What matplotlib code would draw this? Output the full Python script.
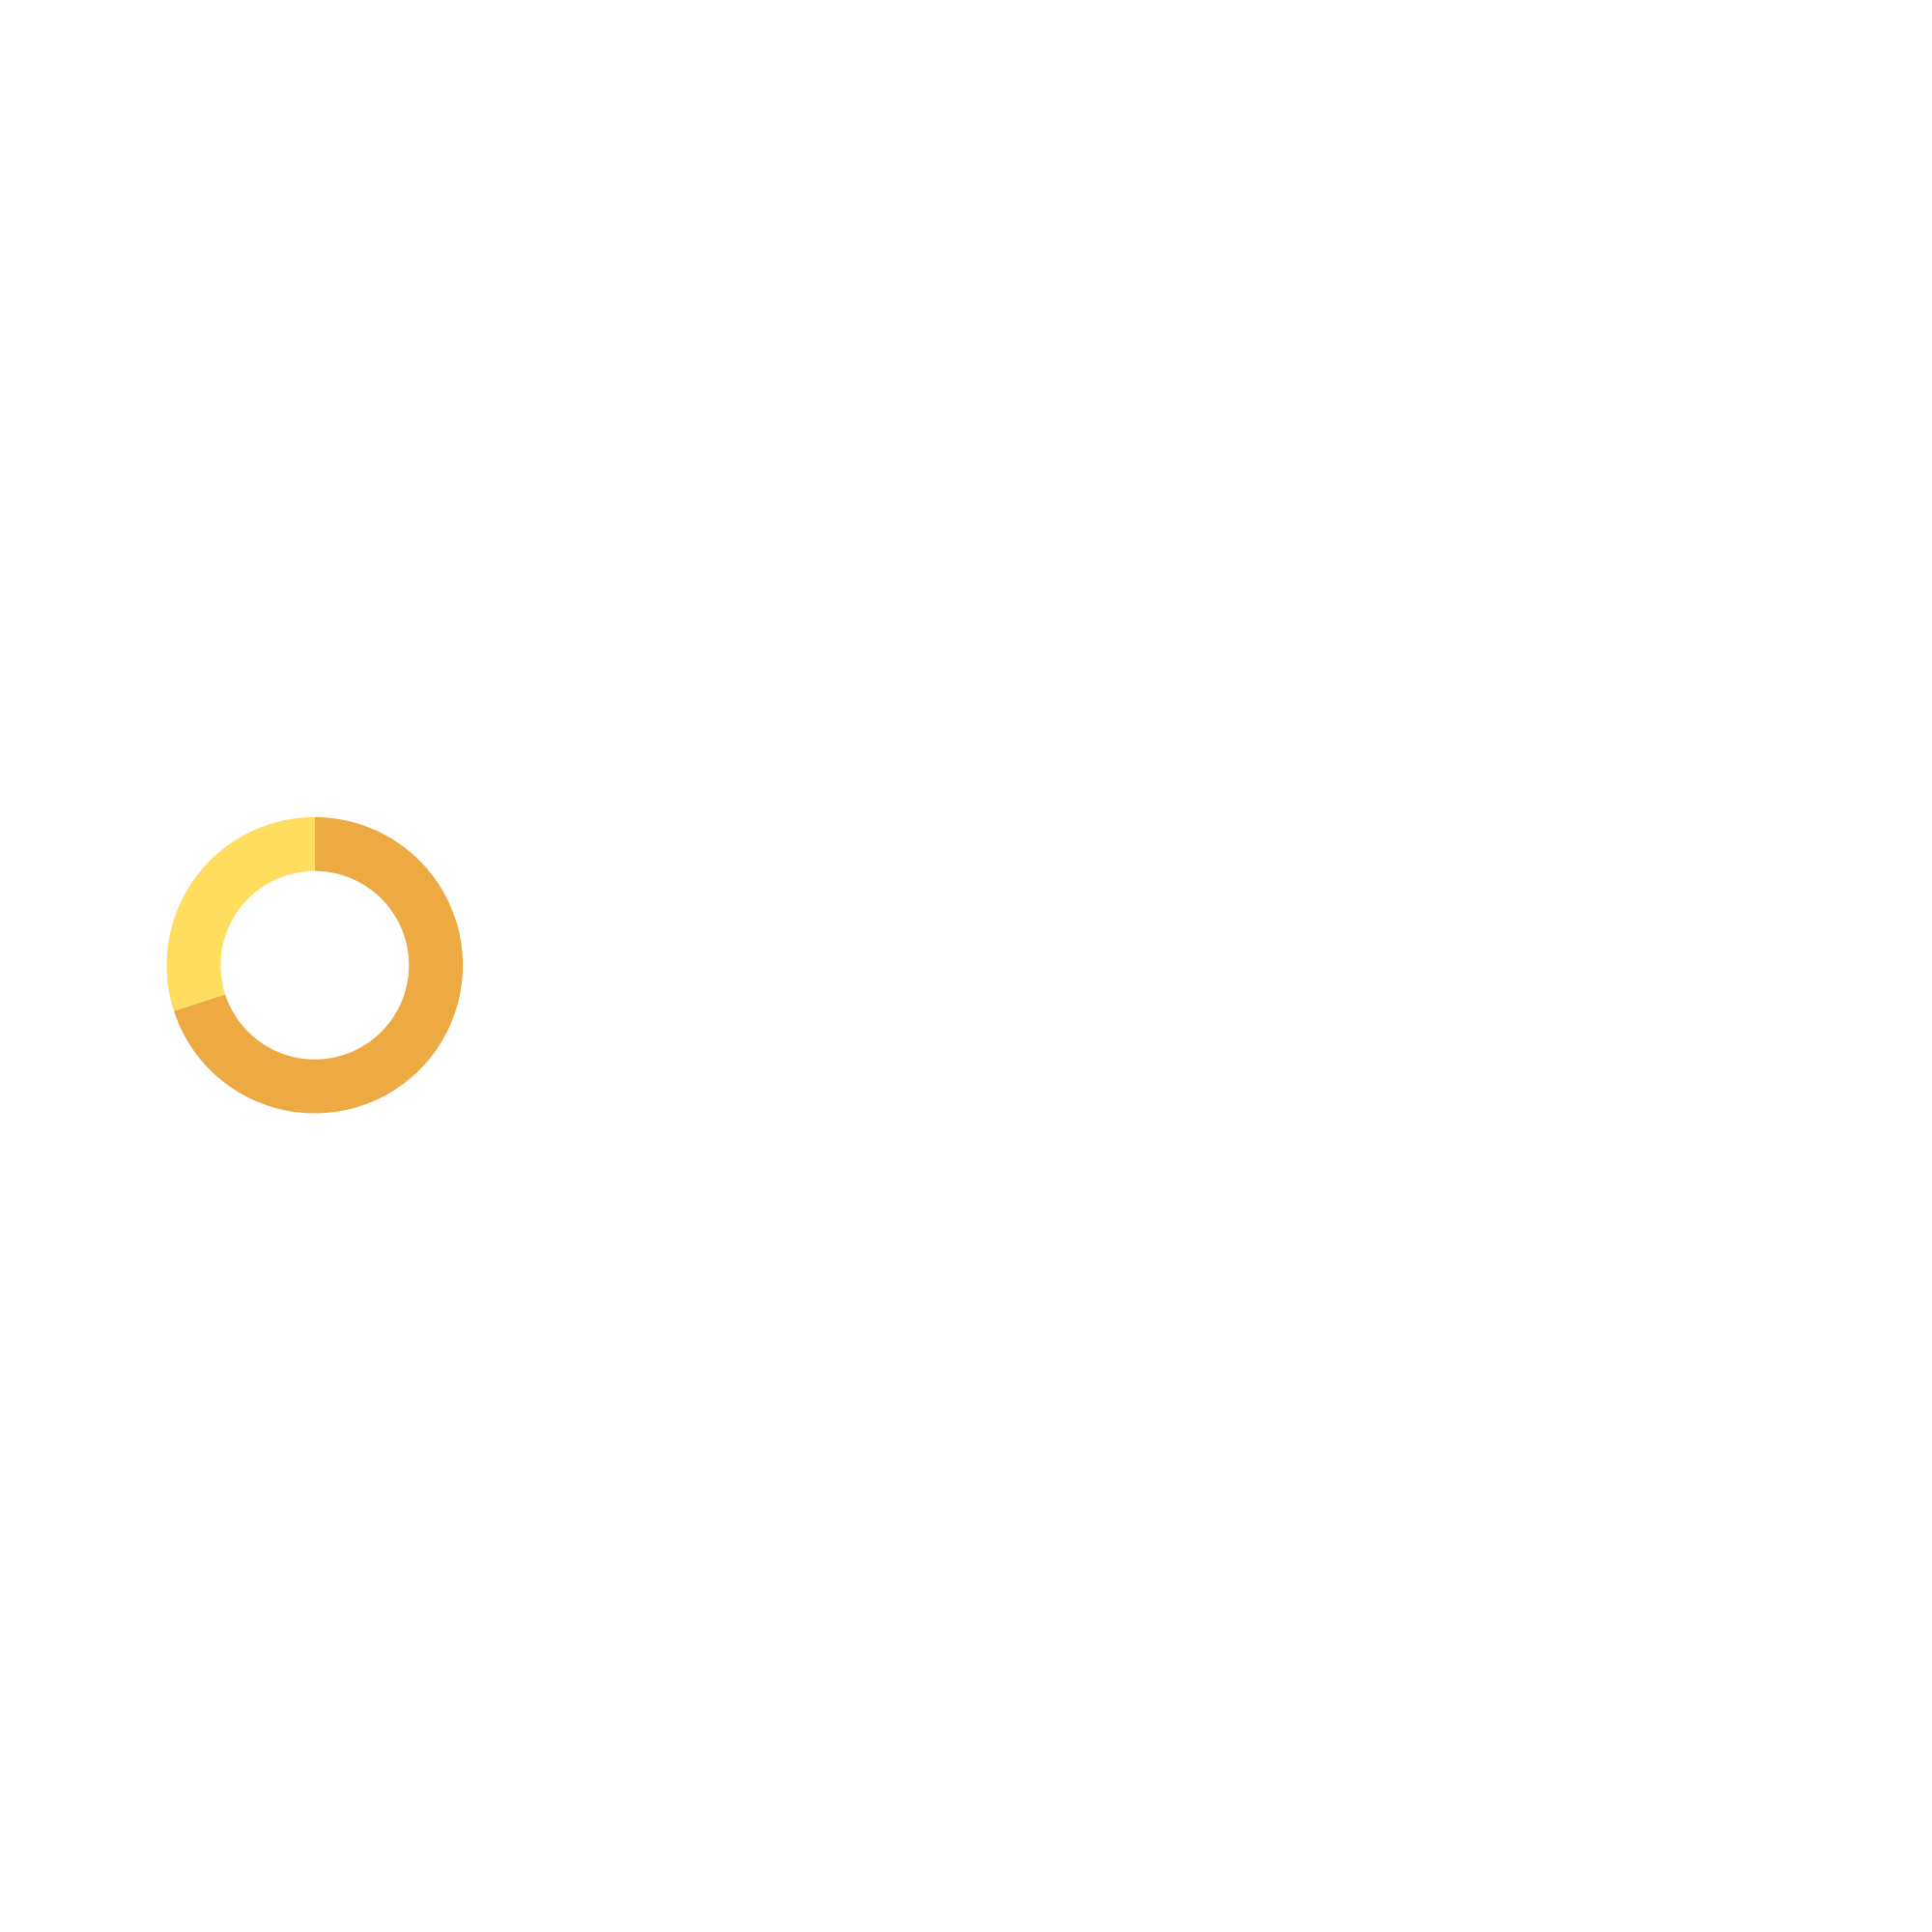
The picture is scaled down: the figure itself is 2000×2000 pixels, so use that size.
import matplotlib
matplotlib.use("Agg")
import matplotlib.pyplot as plt

# Данные кольцевой диаграммы
labels = ["A", "B"]
values = [70, 30]
colors = ["#EDAA43", "#FFDD5E"]

fig = plt.figure(figsize=(20, 20), dpi=100)
fig.patch.set_facecolor("white")

# Кольцо в левой части холста, по вертикали около центра
cx, cy, r = 0.1629, 0.5004, 0.07665
ax = fig.add_axes([cx - r, cy - r, 2 * r, 2 * r])
ax.pie(values, colors=colors, startangle=90, counterclock=False,
       radius=1.0, wedgeprops=dict(width=0.364, linewidth=0))
ax.set_xlim(-1, 1)
ax.set_ylim(-1, 1)
ax.set_aspect("equal")
ax.axis("off")

fig.savefig("out.png", dpi=100, facecolor="white")
